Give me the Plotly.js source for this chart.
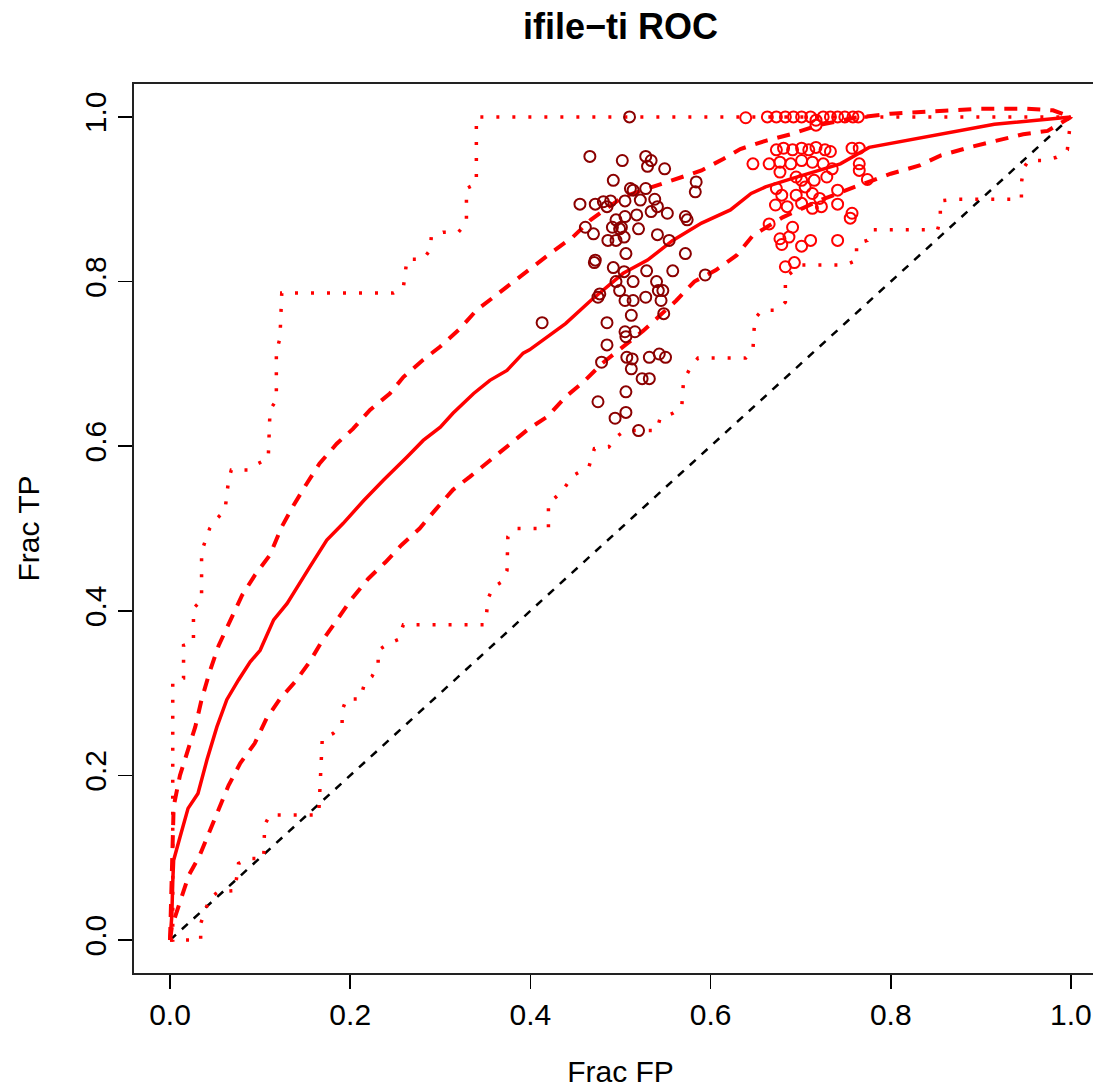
<!DOCTYPE html>
<html>
<head>
<meta charset="utf-8">
<script src="https://cdn.plot.ly/plotly-3.0.1.min.js"></script>
<style>
html,body{margin:0;padding:0;background:#fff;overflow:hidden;}
#chart{width:1120px;height:1088px;}
</style>
</head>
<body>
<div id="chart"></div>
<script>
// ---- data ----
var avgX = [0, 0.002, 0.003, 0.004, 0.011, 0.020, 0.031, 0.041, 0.052, 0.063, 0.076, 0.089, 0.100, 0.115, 0.130, 0.141, 0.155, 0.174, 0.192, 0.215, 0.237, 0.263, 0.281, 0.300, 0.314, 0.337, 0.355, 0.374, 0.392, 0.399, 0.439, 0.467, 0.503, 0.530, 0.558, 0.590, 0.622, 0.645, 0.661, 0.690, 0.720, 0.744, 0.776, 0.836, 0.915, 1.0];
var avgY = [0, 0.030, 0.070, 0.097, 0.125, 0.160, 0.178, 0.219, 0.259, 0.292, 0.316, 0.338, 0.352, 0.389, 0.409, 0.429, 0.453, 0.486, 0.506, 0.534, 0.559, 0.587, 0.607, 0.623, 0.640, 0.664, 0.680, 0.692, 0.713, 0.717, 0.749, 0.777, 0.810, 0.826, 0.850, 0.871, 0.887, 0.907, 0.915, 0.925, 0.935, 0.943, 0.963, 0.975, 0.991, 1.0];

var upX = [0, 0.002, 0.004, 0.011, 0.020, 0.028, 0.035, 0.044, 0.054, 0.067, 0.080, 0.094, 0.111, 0.124, 0.137, 0.152, 0.166, 0.185, 0.203, 0.222, 0.244, 0.259, 0.281, 0.300, 0.322, 0.340, 0.361, 0.381, 0.400, 0.423, 0.447, 0.467, 0.503, 0.535, 0.562, 0.590, 0.614, 0.633, 0.661, 0.689, 0.720, 0.760, 0.800, 0.850, 0.900, 0.950, 0.980, 1.0];
var upY = [0, 0.080, 0.162, 0.200, 0.231, 0.259, 0.292, 0.326, 0.358, 0.389, 0.419, 0.443, 0.468, 0.502, 0.528, 0.555, 0.579, 0.603, 0.621, 0.644, 0.664, 0.684, 0.705, 0.721, 0.743, 0.765, 0.783, 0.800, 0.816, 0.835, 0.854, 0.875, 0.903, 0.915, 0.925, 0.935, 0.949, 0.961, 0.971, 0.979, 0.990, 0.999, 1.004, 1.007, 1.010, 1.010, 1.008, 1.0];

var loX = [0, 0.002, 0.013, 0.021, 0.033, 0.044, 0.054, 0.065, 0.078, 0.094, 0.107, 0.122, 0.139, 0.155, 0.168, 0.185, 0.202, 0.220, 0.239, 0.257, 0.277, 0.294, 0.314, 0.333, 0.353, 0.377, 0.398, 0.419, 0.439, 0.459, 0.479, 0.503, 0.525, 0.544, 0.562, 0.582, 0.606, 0.629, 0.647, 0.680, 0.720, 0.760, 0.800, 0.832, 0.855, 0.887, 0.919, 0.947, 0.974, 1.0];
var loY = [0, 0.016, 0.053, 0.079, 0.103, 0.132, 0.160, 0.188, 0.215, 0.239, 0.269, 0.293, 0.314, 0.338, 0.362, 0.389, 0.415, 0.439, 0.459, 0.480, 0.500, 0.522, 0.547, 0.563, 0.581, 0.603, 0.621, 0.636, 0.660, 0.678, 0.700, 0.721, 0.740, 0.759, 0.777, 0.800, 0.814, 0.832, 0.856, 0.878, 0.898, 0.915, 0.931, 0.941, 0.953, 0.963, 0.971, 0.979, 0.983, 1.0];

var maxX = [0, 0.003, 0.003, 0.015, 0.015, 0.026, 0.026, 0.035, 0.035, 0.044, 0.052, 0.061, 0.065, 0.068, 0.087, 0.098, 0.109, 0.111, 0.118, 0.118, 0.122, 0.124, 0.248, 0.259, 0.263, 0.281, 0.289, 0.290, 0.303, 0.320, 0.329, 0.329, 0.340, 0.340, 1.0];
var maxY = [0, 0, 0.314, 0.318, 0.358, 0.362, 0.403, 0.413, 0.472, 0.500, 0.512, 0.522, 0.559, 0.571, 0.571, 0.579, 0.585, 0.644, 0.656, 0.715, 0.731, 0.786, 0.786, 0.793, 0.827, 0.827, 0.839, 0.855, 0.860, 0.860, 0.871, 0.913, 0.919, 1.0, 1.0];

var minX = [0, 0.034, 0.034, 0.044, 0.054, 0.072, 0.076, 0.087, 0.104, 0.105, 0.111, 0.165, 0.169, 0.181, 0.191, 0.191, 0.196, 0.211, 0.216, 0.224, 0.231, 0.231, 0.242, 0.253, 0.259, 0.348, 0.351, 0.353, 0.359, 0.368, 0.374, 0.375, 0.383, 0.420, 0.420, 0.435, 0.447, 0.465, 0.471, 0.487, 0.495, 0.505, 0.540, 0.544, 0.558, 0.568, 0.570, 0.578, 0.586, 0.639, 0.647, 0.649, 0.657, 0.673, 0.683, 0.683, 0.700, 0.750, 0.762, 0.762, 0.774, 0.780, 0.852, 0.855, 0.855, 0.871, 0.945, 0.945, 0.947, 0.953, 0.970, 0.984, 0.996, 1.0];
var minY = [0, 0, 0.020, 0.051, 0.059, 0.060, 0.093, 0.099, 0.099, 0.140, 0.152, 0.152, 0.245, 0.251, 0.261, 0.279, 0.293, 0.293, 0.312, 0.320, 0.334, 0.352, 0.360, 0.365, 0.383, 0.383, 0.393, 0.415, 0.429, 0.435, 0.449, 0.490, 0.500, 0.500, 0.530, 0.545, 0.564, 0.575, 0.597, 0.599, 0.611, 0.619, 0.619, 0.634, 0.640, 0.648, 0.680, 0.696, 0.707, 0.707, 0.717, 0.755, 0.765, 0.765, 0.775, 0.805, 0.820, 0.820, 0.826, 0.846, 0.850, 0.863, 0.863, 0.876, 0.898, 0.900, 0.900, 0.919, 0.937, 0.947, 0.947, 0.951, 0.960, 1.0];

var diagX = [0, 1];
var diagY = [0, 1];

var ptsAX = [0.510, 0.466, 0.502, 0.528, 0.534, 0.530, 0.549, 0.584, 0.583, 0.492, 0.511, 0.514, 0.528, 0.455, 0.472, 0.489, 0.485, 0.505, 0.522, 0.538, 0.541, 0.534, 0.552, 0.518, 0.505, 0.495, 0.572, 0.574, 0.461, 0.470, 0.501, 0.520, 0.541, 0.486, 0.495, 0.504, 0.554, 0.506, 0.572, 0.472, 0.471, 0.492, 0.504, 0.529, 0.558, 0.594, 0.495, 0.514, 0.540, 0.477, 0.475, 0.499, 0.505, 0.514, 0.528, 0.542, 0.547, 0.545, 0.548, 0.512, 0.413, 0.485, 0.505, 0.516, 0.506, 0.485, 0.479, 0.507, 0.513, 0.532, 0.550, 0.543, 0.512, 0.524, 0.532, 0.506, 0.475, 0.494, 0.506, 0.520, 0.491, 0.499, 0.481];
var ptsAY = [1.000, 0.952, 0.947, 0.952, 0.947, 0.940, 0.937, 0.921, 0.909, 0.923, 0.913, 0.911, 0.913, 0.894, 0.894, 0.898, 0.891, 0.898, 0.899, 0.900, 0.891, 0.885, 0.883, 0.881, 0.879, 0.875, 0.879, 0.875, 0.866, 0.858, 0.866, 0.864, 0.857, 0.850, 0.850, 0.854, 0.850, 0.834, 0.834, 0.826, 0.823, 0.817, 0.812, 0.813, 0.813, 0.808, 0.800, 0.800, 0.800, 0.785, 0.781, 0.789, 0.777, 0.777, 0.781, 0.789, 0.789, 0.777, 0.761, 0.759, 0.750, 0.750, 0.739, 0.739, 0.733, 0.723, 0.702, 0.708, 0.706, 0.708, 0.708, 0.712, 0.694, 0.682, 0.682, 0.666, 0.654, 0.634, 0.641, 0.619, 0.866, 0.864, 0.897];

var ptsBX = [0.639, 0.663, 0.673, 0.683, 0.692, 0.701, 0.711, 0.717, 0.717, 0.725, 0.733, 0.741, 0.749, 0.758, 0.764, 0.673, 0.681, 0.691, 0.701, 0.709, 0.717, 0.727, 0.733, 0.757, 0.765, 0.647, 0.665, 0.677, 0.689, 0.701, 0.713, 0.725, 0.735, 0.765, 0.765, 0.677, 0.695, 0.701, 0.715, 0.729, 0.774, 0.673, 0.705, 0.741, 0.679, 0.695, 0.713, 0.721, 0.672, 0.685, 0.701, 0.713, 0.723, 0.741, 0.757, 0.755, 0.665, 0.691, 0.677, 0.687, 0.711, 0.741, 0.701, 0.679, 0.683, 0.693];
var ptsBY = [0.999, 1.000, 1.000, 1.000, 1.000, 1.000, 1.000, 0.996, 0.990, 1.000, 1.000, 1.000, 1.000, 1.000, 1.000, 0.960, 0.962, 0.960, 0.962, 0.960, 0.963, 0.960, 0.958, 0.962, 0.962, 0.943, 0.943, 0.945, 0.943, 0.947, 0.945, 0.943, 0.937, 0.943, 0.935, 0.933, 0.927, 0.923, 0.923, 0.927, 0.924, 0.913, 0.915, 0.911, 0.905, 0.905, 0.907, 0.901, 0.893, 0.891, 0.895, 0.889, 0.891, 0.894, 0.883, 0.877, 0.870, 0.866, 0.852, 0.854, 0.850, 0.850, 0.843, 0.845, 0.818, 0.823];

var tickVals = [0, 0.2, 0.4, 0.6, 0.8, 1.0];
var tickText = ['0.0', '0.2', '0.4', '0.6', '0.8', '1.0'];

var RED = '#ff0000';
var DARKRED = '#8b0000';
var FONT = 'Liberation Sans, Arial, Helvetica, sans-serif';

var traces = [
  {x: diagX, y: diagY, mode: 'lines', line: {color: '#000', width: 2.5, dash: '8px,8px'}},
  {x: maxX, y: maxY, mode: 'lines', line: {color: RED, width: 3.5, dash: '3px,13px'}},
  {x: minX, y: minY, mode: 'lines', line: {color: RED, width: 3.5, dash: '3px,13px'}},
  {x: upX, y: upY, mode: 'lines', line: {color: RED, width: 4, dash: '13px,10px'}},
  {x: loX, y: loY, mode: 'lines', line: {color: RED, width: 4, dash: '13px,10px'}},
  {x: avgX, y: avgY, mode: 'lines', line: {color: RED, width: 3.5}},
  {x: ptsAX, y: ptsAY, mode: 'markers', marker: {symbol: 'circle-open', size: 11, color: DARKRED, line: {width: 2, color: DARKRED}}},
  {x: ptsBX, y: ptsBY, mode: 'markers', marker: {symbol: 'circle-open', size: 11, color: RED, line: {width: 2, color: RED}}}
];

var axisCommon = {
  range: [-0.04, 1.04],
  tickvals: tickVals,
  ticktext: tickText,
  ticks: 'outside',
  ticklen: 14,
  tickwidth: 1.5,
  tickcolor: '#000',
  showline: true,
  mirror: true,
  linecolor: '#222',
  linewidth: 2,
  showgrid: false,
  zeroline: false,
  automargin: false,
  tickfont: {family: FONT, size: 30, color: '#000'}
};

var layout = {
  width: 1120,
  height: 1088,
  margin: {l: 134, r: 13, t: 84, b: 115},
  paper_bgcolor: '#fff',
  plot_bgcolor: '#fff',
  showlegend: false,
  hovermode: false,
  title: {
    text: '<b>ifile\u2212ti ROC</b>',
    font: {family: FONT, size: 36, color: '#000'},
    x: 0.5, xref: 'paper', xanchor: 'center',
    y: 1 - 26.4 / 1088, yref: 'container', yanchor: 'middle'
  },
  xaxis: Object.assign({}, axisCommon, {
    title: {text: 'Frac FP', font: {family: FONT, size: 30, color: '#000'}, standoff: 32}
  }),
  yaxis: Object.assign({}, axisCommon, {
    mirror: false,
    tickangle: -90,
    title: {text: 'Frac TP', font: {family: FONT, size: 30, color: '#000'}, standoff: 31}
  })
};

Plotly.newPlot('chart', traces, layout, {displayModeBar: false, staticPlot: true});
</script>
</body>
</html>
